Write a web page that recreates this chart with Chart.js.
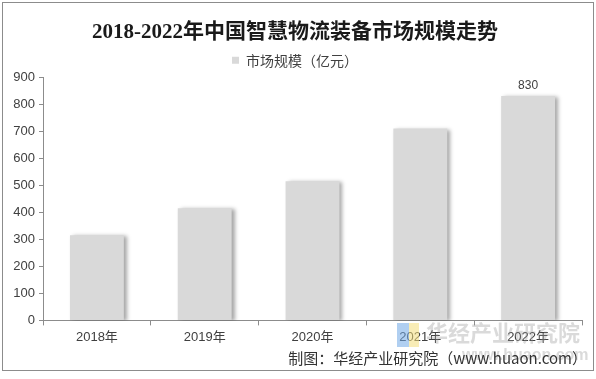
<!DOCTYPE html>
<html>
<head>
<meta charset="utf-8">
<script src="https://cdn.jsdelivr.net/npm/chart.js@4/dist/chart.umd.min.js"></script>
<style>
html,body{margin:0;padding:0;background:#fff;}
#wrap{width:596px;height:379px;position:relative;}
</style>
</head>
<body>
<div id="wrap"><canvas id="c" width="596" height="379"></canvas></div>
<script>
const categories = ['2018年','2019年','2020年','2021年','2022年'];
const marketSize = [315, 415, 515, 710, 830];
const seriesName = '市场规模（亿元）';
const titleText = '2018-2022年中国智慧物流装备市场规模走势';
const sourceText = '制图：华经产业研究院（www.huaon.com）';
const yTicks = [0,100,200,300,400,500,600,700,800,900];

const cjk = '"Noto Sans CJK SC", "Noto Sans", sans-serif';
const armo = 'Arial, "Liberation Sans", "Noto Sans CJK SC", sans-serif';

const shadowPlugin = {
  id: 'barShadow',
  beforeDatasetsDraw(chart) {
    const ctx = chart.ctx;
    ctx.save();
    ctx.shadowColor = 'rgba(0,0,0,0.35)';
    ctx.shadowBlur = 4;
    ctx.shadowOffsetX = 3;
    ctx.shadowOffsetY = 1;
  },
  afterDatasetsDraw(chart) {
    chart.ctx.restore();
  }
};

const decoPlugin = {
  id: 'deco',
  afterDraw(chart) {
    const ctx = chart.ctx;
    ctx.save();
    // frame
    ctx.strokeStyle = '#8c8c8c';
    ctx.lineWidth = 1;
    ctx.strokeRect(2.5, 2.5, 591, 368);
    // last bar label
    const meta = chart.getDatasetMeta(0);
    const last = meta.data[meta.data.length - 1];
    ctx.fillStyle = '#404040';
    ctx.font = '12px ' + armo;
    ctx.textAlign = 'center';
    ctx.textBaseline = 'bottom';
    ctx.fillText(String(marketSize[marketSize.length - 1]), last.x, last.y - 4);
    // watermark logo
    ctx.globalAlpha = 0.55;
    ctx.fillStyle = '#6fa8e6';
    ctx.fillRect(397, 323, 12, 24);
    ctx.fillStyle = '#f2dc7a';
    ctx.fillRect(409, 323, 10, 24);
    ctx.globalAlpha = 1;
    ctx.fillStyle = 'rgba(150,150,150,0.35)';
    ctx.font = 'bold 22px ' + cjk;
    ctx.textAlign = 'left';
    ctx.textBaseline = 'middle';
    ctx.fillText('华经产业研究院', 426, 333);
    ctx.font = 'bold 16px ' + armo;
    ctx.fillText('www.huaon.com', 462, 356);
    // source
    ctx.fillStyle = '#333333';
    ctx.font = '15px ' + cjk;
    ctx.textAlign = 'right';
    ctx.textBaseline = 'middle';
    ctx.fillText(sourceText, 587, 358);
    ctx.restore();
  }
};

new Chart(document.getElementById('c'), {
  type: 'bar',
  data: {
    labels: categories,
    datasets: [{
      label: seriesName,
      data: marketSize,
      backgroundColor: '#d9d9d9',
      borderWidth: 0,
      barPercentage: 0.5,
      categoryPercentage: 1.0
    }]
  },
  options: {
    responsive: false,
    animation: false,
    devicePixelRatio: 1,
    layout: { padding: { left: 8, right: 14, top: 14, bottom: 30 } },
    plugins: {
      title: {
        display: true,
        text: titleText,
        color: '#1a1a1a',
        font: { family: '"Liberation Serif", "Noto Sans CJK SC", serif', size: 21, weight: 'bold' },
        padding: { top: 6, bottom: 2 }
      },
      legend: {
        display: true,
        labels: {
          color: '#404040',
          font: { family: cjk, size: 14 },
          boxWidth: 7,
          boxHeight: 7,
          padding: 6
        }
      },
      tooltip: { enabled: false }
    },
    scales: {
      x: {
        grid: { display: true, drawOnChartArea: false, offset: true, color: '#8c8c8c', tickLength: 5, tickColor: '#8c8c8c' },
        border: { color: '#8c8c8c' },
        ticks: { color: '#404040', font: { family: armo, size: 13 }, padding: 4 }
      },
      y: {
        min: 0, max: 900,
        afterBuildTicks(scale) { scale.ticks = yTicks.map(v => ({ value: v })); },
        afterFit(scale) { scale.width = 35; },
        grid: { display: true, drawOnChartArea: false, color: '#8c8c8c', tickLength: 4, tickColor: '#8c8c8c' },
        border: { color: '#8c8c8c' },
        ticks: { color: '#404040', font: { family: armo, size: 13 }, padding: 4 }
      }
    }
  },
  plugins: [shadowPlugin, decoPlugin]
});
</script>
</body>
</html>
